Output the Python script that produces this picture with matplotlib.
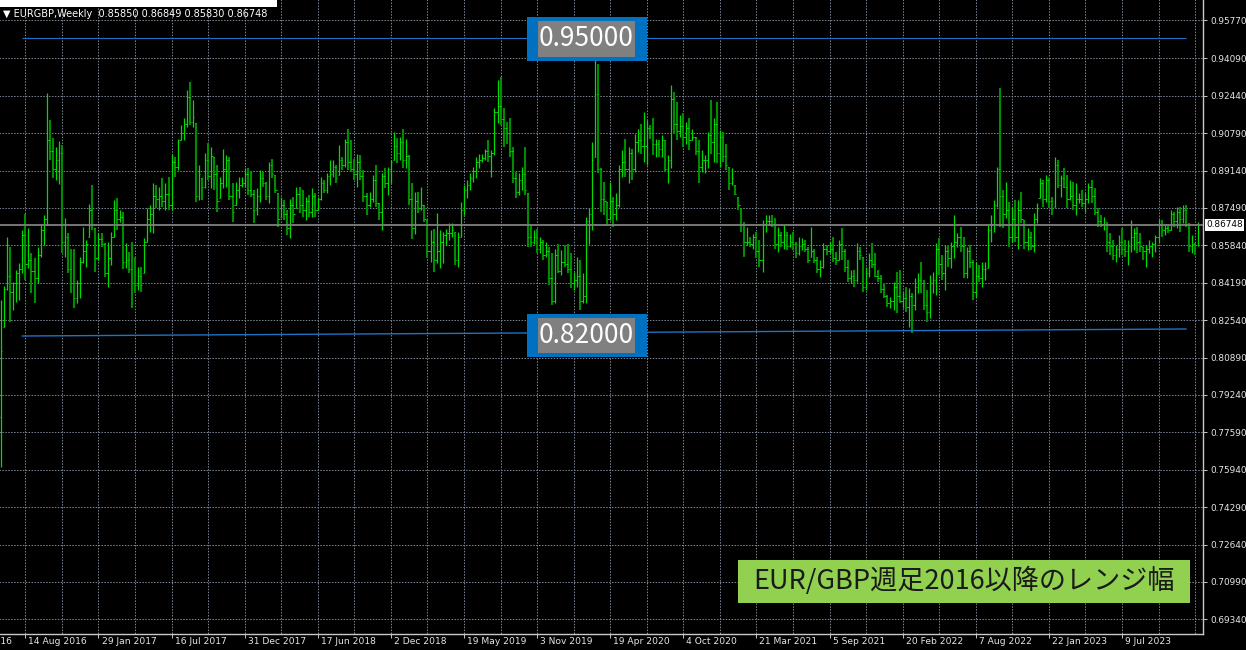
import numpy as np
import pandas as pd
import matplotlib
matplotlib.use("Agg")
import matplotlib.pyplot as plt
import matplotlib.transforms as mtransforms
from matplotlib.patches import Rectangle

# EURGBP weekly bars, first bar = week of 19 Jun 2016 (prices x 10000)
start_week = "2016-06-19"
first_open = 7828

highs = [
    8343, 8406, 8622, 8578, 8423, 8475, 8504, 8651, 8722, 8659,
    8548, 8526, 8578, 8673, 8717, 9258, 9139, 9056, 9016, 9044,
    9026, 8703, 8637, 8570, 8570, 8431, 8534, 8666, 8607, 8766,
    8850, 8659, 8637, 8640, 8593, 8600, 8644, 8784, 8791, 8740,
    8732, 8595, 8556, 8600, 8534, 8490, 8490, 8615, 8747, 8762,
    8857, 8850, 8842, 8879, 8857, 8887, 8989, 8975, 9051, 9114,
    9144, 9269, 9305, 9225, 9122, 8938, 8879, 8992, 9034, 9019,
    8975, 8938, 8887, 9011, 8982, 8975, 8857, 8864, 8887, 8887,
    8923, 8923, 8909, 8828, 8835, 8916, 8909, 8864, 8953, 8964,
    8894, 8813, 8798, 8784, 8740, 8787, 8798, 8842, 8842, 8828,
    8798, 8806, 8835, 8813, 8798, 8887, 8872, 8901, 8960, 8960,
    8938, 9026, 8975, 9051, 9095, 9048, 8967, 8989, 8982, 8916,
    8813, 8820, 8894, 8938, 8769, 8901, 8923, 8931, 8960, 9085,
    9056, 9063, 9099, 9055, 8982, 8857, 8820, 8820, 8842, 8761,
    8695, 8651, 8658, 8725, 8651, 8644, 8658, 8681, 8681, 8644,
    8644, 8776, 8850, 8872, 8901, 8930, 8975, 8989, 8989, 9011,
    9048, 9004, 9188, 9313, 9327, 9188, 9129, 9144, 9019, 8908,
    8901, 8930, 9019, 8813, 8673, 8651, 8658, 8622, 8607, 8600,
    8578, 8548, 8570, 8592, 8563, 8585, 8592, 8548, 8467, 8534,
    8519, 8460, 8710, 8747, 9041, 9499, 9386, 8923, 8864, 8776,
    8864, 8798, 8813, 8938, 9004, 9055, 9019, 9011, 9077, 9099,
    9121, 9173, 9136, 9114, 9144, 9055, 9048, 9070, 9048, 8982,
    9291, 9261, 9217, 9158, 9166, 9129, 9144, 9099, 9063, 9048,
    9004, 8982, 9085, 9224, 9144, 9217, 9092, 9085, 9033, 8930,
    8923, 8850, 8798, 8747, 8688, 8666, 8622, 8636, 8644, 8607,
    8695, 8717, 8717, 8717, 8703, 8666, 8644, 8673, 8644, 8636,
    8644, 8600, 8620, 8615, 8607, 8578, 8666, 8570, 8534, 8519,
    8593, 8585, 8600, 8622, 8556, 8607, 8659, 8570, 8519, 8475,
    8475, 8593, 8578, 8534, 8490, 8548, 8593, 8548, 8475, 8453,
    8416, 8365, 8357, 8423, 8468, 8475, 8379, 8401, 8394, 8372,
    8438, 8460, 8512, 8431, 8387, 8453, 8468, 8593, 8615, 8541,
    8585, 8585, 8600, 8717, 8637, 8666, 8622, 8578, 8585, 8519,
    8512, 8497, 8512, 8512, 8673, 8717, 8784, 8931, 9276, 8828,
    8864, 8776, 8747, 8784, 8784, 8820, 8695, 8659, 8644, 8725,
    8769, 8879, 8872, 8894, 8879, 8798, 8975, 8960, 8894, 8923,
    8894, 8872, 8864, 8857, 8813, 8828, 8813, 8857, 8872, 8835,
    8747, 8717, 8710, 8688, 8637, 8607, 8585, 8629, 8659, 8607,
    8607, 8695, 8659, 8666, 8637, 8578, 8585, 8607, 8600, 8629,
    8698, 8695, 8673, 8673, 8740, 8732, 8754, 8754, 8762, 8762,
    8681, 8629, 8593, 8685,
]

lows = [
    7606, 8225, 8387, 8247, 8299, 8335, 8343, 8460, 8431, 8482,
    8372, 8328, 8416, 8534, 8585, 8673, 8960, 8879, 8872, 8854,
    8551, 8534, 8460, 8372, 8306, 8328, 8350, 8504, 8490, 8622,
    8651, 8468, 8519, 8578, 8446, 8401, 8497, 8622, 8651, 8688,
    8478, 8482, 8460, 8306, 8372, 8387, 8379, 8460, 8600, 8644,
    8637, 8747, 8740, 8754, 8740, 8740, 8740, 8887, 8916, 9048,
    9048, 9107, 9114, 9107, 8776, 8784, 8784, 8835, 8872, 8835,
    8828, 8732, 8791, 8835, 8842, 8784, 8688, 8762, 8791, 8842,
    8842, 8806, 8798, 8681, 8717, 8776, 8842, 8784, 8769, 8879,
    8813, 8666, 8710, 8695, 8629, 8615, 8681, 8747, 8725, 8710,
    8695, 8710, 8710, 8710, 8740, 8784, 8813, 8813, 8850, 8887,
    8857, 8894, 8916, 8931, 8916, 8909, 8872, 8842, 8872, 8776,
    8717, 8754, 8776, 8754, 8695, 8651, 8835, 8806, 8857, 8960,
    8945, 8960, 8923, 8923, 8761, 8614, 8636, 8725, 8739, 8688,
    8526, 8511, 8467, 8504, 8482, 8504, 8585, 8607, 8622, 8497,
    8489, 8622, 8717, 8791, 8828, 8864, 8879, 8923, 8952, 8960,
    8952, 8886, 8982, 9122, 9114, 9019, 9033, 8975, 8857, 8791,
    8805, 8828, 8805, 8578, 8578, 8592, 8548, 8548, 8519, 8534,
    8409, 8320, 8328, 8460, 8453, 8489, 8460, 8394, 8387, 8401,
    8298, 8328, 8328, 8592, 8651, 8975, 8901, 8732, 8717, 8673,
    8695, 8666, 8695, 8754, 8886, 8886, 8857, 8871, 8908, 8996,
    8989, 8952, 8937, 9055, 8982, 8975, 8975, 8975, 8908, 8857,
    8923, 9077, 9048, 9063, 9019, 9033, 9004, 9048, 8982, 8857,
    8908, 8901, 8923, 8989, 8952, 8945, 8930, 8952, 8916, 8828,
    8850, 8805, 8739, 8644, 8534, 8585, 8578, 8570, 8526, 8489,
    8467, 8644, 8673, 8666, 8570, 8556, 8578, 8570, 8563, 8578,
    8563, 8526, 8540, 8563, 8556, 8504, 8534, 8504, 8460, 8446,
    8482, 8541, 8548, 8512, 8497, 8519, 8519, 8468, 8423, 8416,
    8401, 8423, 8519, 8379, 8387, 8446, 8482, 8446, 8423, 8372,
    8350, 8313, 8306, 8299, 8284, 8328, 8306, 8291, 8225, 8196,
    8299, 8372, 8372, 8299, 8247, 8262, 8372, 8365, 8453, 8431,
    8387, 8490, 8482, 8526, 8578, 8556, 8438, 8438, 8482, 8343,
    8357, 8423, 8401, 8431, 8482, 8600, 8644, 8754, 8666, 8659,
    8703, 8578, 8600, 8600, 8570, 8681, 8570, 8563, 8563, 8556,
    8681, 8791, 8754, 8776, 8747, 8717, 8754, 8835, 8798, 8835,
    8747, 8784, 8740, 8717, 8769, 8754, 8732, 8769, 8769, 8717,
    8666, 8666, 8651, 8556, 8541, 8519, 8512, 8534, 8541, 8534,
    8497, 8556, 8563, 8548, 8556, 8519, 8490, 8548, 8534, 8556,
    8593, 8622, 8629, 8637, 8651, 8666, 8659, 8644, 8681, 8666,
    8556, 8548, 8541, 8583,
]

closes = [
    8118, 8390, 8450, 8380, 8420, 8460, 8480, 8630, 8500, 8520,
    8470, 8440, 8540, 8650, 8700, 9050, 9000, 8920, 8960, 8990,
    8600, 8620, 8480, 8420, 8350, 8420, 8510, 8560, 8590, 8740,
    8680, 8530, 8610, 8590, 8460, 8530, 8620, 8740, 8700, 8710,
    8510, 8520, 8480, 8420, 8410, 8450, 8410, 8600, 8700, 8720,
    8800, 8790, 8800, 8780, 8810, 8760, 8950, 8930, 9040, 9080,
    9120, 9240, 9130, 9150, 8800, 8900, 8840, 8960, 8890, 8980,
    8900, 8780, 8860, 8920, 8960, 8800, 8730, 8830, 8850, 8860,
    8900, 8830, 8810, 8740, 8800, 8880, 8860, 8800, 8940, 8900,
    8830, 8700, 8760, 8720, 8660, 8760, 8720, 8810, 8760, 8740,
    8780, 8730, 8800, 8740, 8790, 8860, 8830, 8890, 8900, 8930,
    8880, 8960, 8940, 9040, 8950, 8920, 8900, 8950, 8890, 8800,
    8760, 8790, 8870, 8770, 8730, 8890, 8860, 8920, 8950, 9020,
    8990, 9040, 8960, 8980, 8790, 8660, 8780, 8750, 8760, 8700,
    8560, 8600, 8520, 8560, 8600, 8630, 8640, 8640, 8650, 8520,
    8620, 8740, 8830, 8850, 8880, 8910, 8950, 8960, 8970, 9000,
    8980, 8990, 9170, 9200, 9140, 9100, 9080, 9000, 8880, 8820,
    8870, 8900, 8830, 8620, 8600, 8620, 8570, 8600, 8540, 8560,
    8440, 8340, 8540, 8470, 8510, 8500, 8480, 8420, 8430, 8450,
    8340, 8360, 8690, 8720, 8960, 9250, 8920, 8790, 8780, 8700,
    8780, 8720, 8760, 8920, 8950, 8920, 8990, 8920, 9040, 9050,
    9020, 9020, 9100, 9080, 9030, 9030, 9010, 9050, 8920, 8960,
    9230, 9120, 9090, 9110, 9060, 9100, 9050, 9060, 9000, 8930,
    8960, 8960, 9070, 9040, 9120, 8990, 9060, 8980, 8940, 8860,
    8880, 8810, 8760, 8680, 8600, 8600, 8590, 8620, 8560, 8520,
    8680, 8690, 8690, 8680, 8590, 8630, 8600, 8630, 8580, 8600,
    8590, 8550, 8580, 8590, 8570, 8520, 8560, 8520, 8480, 8490,
    8570, 8560, 8570, 8530, 8520, 8590, 8560, 8490, 8440, 8450,
    8430, 8560, 8540, 8400, 8460, 8520, 8500, 8450, 8440, 8390,
    8360, 8330, 8340, 8400, 8360, 8340, 8350, 8310, 8360, 8320,
    8400, 8430, 8420, 8320, 8290, 8420, 8430, 8570, 8500, 8460,
    8560, 8530, 8580, 8600, 8620, 8580, 8460, 8560, 8510, 8380,
    8450, 8440, 8480, 8480, 8650, 8680, 8760, 8920, 8800, 8720,
    8740, 8620, 8700, 8620, 8740, 8700, 8600, 8620, 8580, 8700,
    8750, 8860, 8790, 8870, 8780, 8750, 8940, 8850, 8880, 8840,
    8790, 8800, 8760, 8790, 8790, 8770, 8790, 8840, 8800, 8730,
    8690, 8680, 8680, 8600, 8580, 8540, 8570, 8600, 8570, 8560,
    8580, 8620, 8640, 8600, 8580, 8560, 8570, 8580, 8590, 8620,
    8680, 8650, 8660, 8650, 8720, 8690, 8730, 8700, 8740, 8680,
    8580, 8590, 8585, 8675,
]

header = "\u25BC EURGBP,Weekly  0.85850 0.86849 0.85830 0.86748"
last_price = 0.86748
price_ticks = [0.95770, 0.94090, 0.92440, 0.90790, 0.89140, 0.87490, 0.85840,
               0.84190, 0.82540, 0.80890, 0.79240, 0.77590, 0.75940, 0.74290,
               0.72640, 0.70990, 0.69340]

# drawn range levels
upper_level = 0.95
lower_start, lower_end = 0.8184, 0.8215
line_from, line_to = "2016-08-07", "2023-12-03"
title_jp = "EUR/GBP週足2016以降のレンジ幅"

# ---------------------------------------------------------------
W, H = 1246, 650
hi = np.array(highs) / 10000
lo = np.array(lows) / 10000
cl = np.array(closes) / 10000
n = len(cl)
op = np.empty(n)
op[0] = first_open / 10000
op[1:] = np.clip(cl[:-1], lo[1:], hi[1:])
x = np.arange(n)
t0 = pd.Timestamp(start_week)
def widx(d):
    return (pd.Timestamp(d) - t0).days / 7

fig = plt.figure(figsize=(W / 100, H / 100), dpi=100, facecolor="black")
ax = fig.add_axes([0, 16 / H, 1203 / W, 634 / H])
ax.set_facecolor("black")
ax.set_xlim(-0.33, 394.6)
ax.set_ylim(0.68695, 0.96662)

# grid
grid_kw = dict(colors="#7d8996", linewidth=0.7, linestyles=(0, (1.5, 1.5)), zorder=0.5)
vx = np.arange(-4, 400, 12)
ax.vlines(vx, 0.6, 1.0, **grid_kw)
ax.hlines(price_ticks, -5, 400, **grid_kw)

# bars
up = cl >= op
ax.vlines(x[up], lo[up], hi[up], color="#00dc00", linewidth=0.9, zorder=2)
ax.vlines(x[~up], lo[~up], hi[~up], color="#008c00", linewidth=1.5, zorder=2)
ax.hlines(op, x - 0.45, x, color="#00dc00", linewidth=0.7, zorder=2)
ax.hlines(cl, x, x + 0.45, color="#00dc00", linewidth=0.7, zorder=2)

# range lines
blue = "#1f72c4"
ax.hlines(upper_level, widx(line_from), widx(line_to), color=blue, linewidth=0.8, zorder=3)
ax.plot([widx(line_from), widx(line_to)], [lower_start, lower_end], color=blue,
        linewidth=1.0, zorder=3)

# last price line
ax.axhline(last_price, color="#808080", linewidth=1.3, zorder=4)

# axes look
for s in ["top", "left"]:
    ax.spines[s].set_visible(False)
for s in ["right", "bottom"]:
    ax.spines[s].set_color("#c8c8c8")
    ax.spines[s].set_linewidth(1.0)
ax.yaxis.tick_right()
ax.set_yticks(price_ticks)
ax.set_yticklabels([f"{v:.5f}" for v in price_ticks])
ax.tick_params(axis="y", colors="#c8c8c8", labelcolor="#e6e6e6", length=3,
               width=0.7, pad=2, labelsize=6.4)
lab_idx = np.arange(-16, n - 24, 24)
ax.set_xticks(lab_idx[lab_idx >= 0])
ax.set_xticklabels([])
ax.tick_params(axis="x", colors="#c8c8c8", length=3, width=0.7)
for k in lab_idx:
    d = t0 + pd.Timedelta(weeks=int(k))
    ax.text(k + 1.0, -8 / 634, f"{d.day} {d.strftime('%b %Y')}", transform=ax.get_xaxis_transform(),
            ha="left", va="center", color="#e6e6e6", fontsize=6.6, clip_on=False)

ax.text(1.0 + 3 / 1203, last_price, f"{last_price:.5f}",
        transform=mtransforms.blended_transform_factory(ax.transAxes, ax.transData),
        ha="left", va="center", color="black", fontsize=6.4, zorder=10, clip_on=False,
        bbox=dict(boxstyle="square,pad=0.15", facecolor="white", edgecolor="none"))

# header
fig.patches.append(Rectangle((0, 1 - 7 / H), 277 / W, 7 / H, transform=fig.transFigure,
                             facecolor="white", edgecolor="none", zorder=1))
fig.text(3 / W, 1 - 14 / H, header, color="white", fontsize=7.0, va="center", ha="left")

def px_box(x0, y0, x1, y1, color):
    fig.patches.append(Rectangle((x0 / W, 1 - y1 / H), (x1 - x0) / W, (y1 - y0) / H,
                                 transform=fig.transFigure, facecolor=color,
                                 edgecolor="none", zorder=5))

jp = ["Noto Sans CJK JP", "DejaVu Sans"]
for (y0, y1), val in [((17, 61), upper_level), ((314, 357), 0.82)]:
    px_box(527, y0, 647, y1, "#0070c0")
    px_box(538, y0 + 3.5, 635, y1 - 4, "#808080")
    fig.text(586.5 / W, 1 - (y0 + y1) / 2 / H, f"{val:.5f}", color="white", fontsize=19,
             family=jp, ha="center", va="center", zorder=6)

px_box(738, 560, 1190, 603, "#92d050")
fig.text(964 / W, 1 - 581 / H, title_jp, color="#1a1a1a", fontsize=19.5, family=jp,
         ha="center", va="center", zorder=6)

fig.savefig("out.png", dpi=100, facecolor="black")
